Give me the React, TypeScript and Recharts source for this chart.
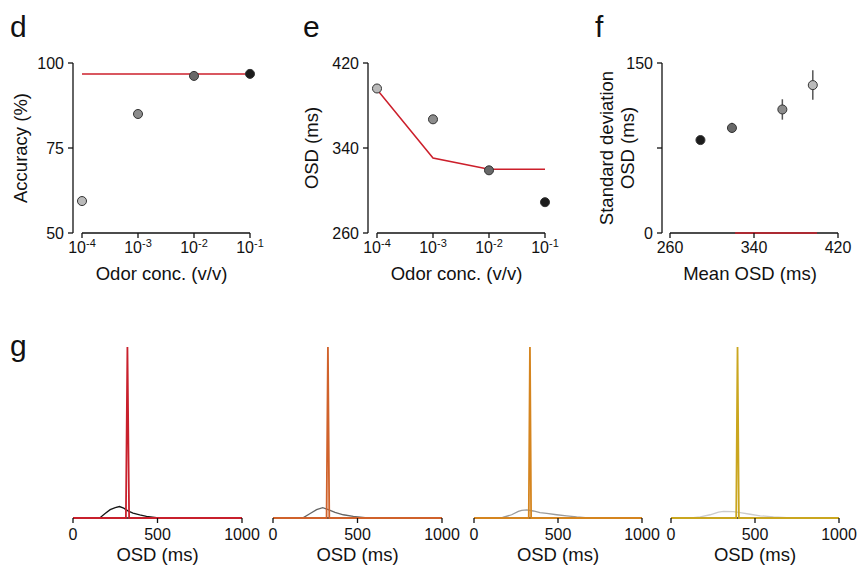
import React from "react";
import {
  ComposedChart,
  LineChart,
  Line,
  Scatter,
  XAxis,
  YAxis,
  Cell,
  ErrorBar,
  ReferenceLine,
  Label,
} from "recharts";

const FONT = '"Liberation Sans", Arial, Helvetica, sans-serif';
const INK = "#111";
const RED = "#cc1f2b";
const TITLE = 18.5;

// odor concentration, log10 (v/v)
const concExp = [-4, -3, -2, -1];
const concShade = ["#bababa", "#8c8c8c", "#686868", "#1c1c1c"];

// d: accuracy
const accuracy = [59.4, 85.0, 96.2, 96.8];
const accuracyModel = [96.8, 96.8, 96.8, 96.8];

// e: mean OSD
const osdMean = [396, 367, 319, 289];
const osdMeanModel = [395, 330.5, 320, 320];

// f: std of OSD vs mean OSD
const osdStd = [130.5, 109, 92.7, 82];
const osdStdErr = [13, 9, 4.5, 2];
const modelMeanSpan = [322, 400];
const modelStd = [0, 0];

// g: OSD distributions, panels left to right = 10^-1, 10^-2, 10^-3, 10^-4
const osdDist = [
  [[0, 0], [150, 0], [160, 0.002], [190, 0.026], [220, 0.049], [250, 0.061], [275, 0.067], [300, 0.058], [325, 0.042], [355, 0.029], [395, 0.018], [435, 0.01], [495, 0.002], [550, 0], [1000, 0]],
  [[0, 0], [170, 0], [180, 0.002], [220, 0.026], [258, 0.049], [294, 0.061], [327, 0.049], [367, 0.033], [416, 0.019], [475, 0.01], [545, 0.002], [600, 0], [1000, 0]],
  [[0, 0], [110, 0], [170, 0.003], [224, 0.019], [264, 0.039], [284, 0.045], [314, 0.047], [353, 0.041], [393, 0.031], [433, 0.027], [492, 0.019], [552, 0.012], [611, 0.006], [680, 0.001], [720, 0], [1000, 0]],
  [[0, 0], [120, 0], [174, 0.006], [233, 0.019], [283, 0.035], [313, 0.039], [372, 0.037], [412, 0.031], [471, 0.022], [531, 0.013], [610, 0.006], [689, 0.002], [760, 0], [1000, 0]],
];
const osdModelSpike = [
  [[0, 0], [313, 0], [322, 1], [332, 0], [1000, 0]],
  [[0, 0], [317, 0], [325, 1], [333, 0], [1000, 0]],
  [[0, 0], [326, 0], [333, 1], [340, 0], [1000, 0]],
  [[0, 0], [388, 0], [396, 1], [404, 0], [1000, 0]],
];
const distColors = ["#161616", "#666666", "#9b9b9b", "#cbcbcb"];
const modelColors = ["#c8202c", "#d0622b", "#d5851f", "#caa61f"];
const osdTicks = [0, 500, 1000];

const axisStroke = { stroke: INK, strokeWidth: 1.3 };
const tickStyle = { fontSize: 16, fill: INK, fontFamily: FONT };

const PowTick = (props: any) => {
  const { x, y, payload } = props;
  return (
    <text x={x} y={y + 11} textAnchor="middle" fontFamily={FONT} fontSize={16} fill={INK}>
      10
      <tspan dy={-6} fontSize={11}>
        {payload.value}
      </tspan>
    </text>
  );
};

function ConcPanel(props: {
  left: number;
  width: number;
  ml: number;
  mr: number;
  values: number[];
  model: number[];
  yDomain: [number, number];
  yTicks: number[];
  yLabel: string;
  labelDx: number;
}) {
  const rows = concExp.map((c, i) => ({ c, v: props.values[i], model: props.model[i] }));
  const y0 = props.yDomain[0];
  return (
    <div style={{ position: "absolute", left: props.left, top: 0 }}>
      <ComposedChart
        width={props.width}
        height={300}
        data={rows}
        margin={{ top: 63, right: props.mr, bottom: 17, left: props.ml }}
      >
        <XAxis
          dataKey="c"
          type="number"
          domain={[-4, -1]}
          ticks={concExp}
          padding={{ left: 9, right: 0 }}
          axisLine={false}
          tickLine={axisStroke}
          tickSize={5}
          tickMargin={4}
          height={50}
          tick={<PowTick />}
          label={{ value: "Odor conc. (v/v)", position: "insideBottom", offset: 3, fontSize: TITLE, fill: INK }}
        />
        <YAxis
          type="number"
          domain={props.yDomain}
          ticks={props.yTicks}
          width={60}
          axisLine={axisStroke}
          tickLine={axisStroke}
          tickSize={5}
          tickMargin={4}
          tick={tickStyle}
          label={{ value: props.yLabel, angle: -90, position: "center", dx: props.labelDx, fontSize: TITLE, fill: INK }}
        />
        <ReferenceLine segment={[{ x: -4, y: y0 }, { x: -1, y: y0 }]} stroke={INK} strokeWidth={1.3} />
        <Line type="linear" dataKey="model" stroke={RED} strokeWidth={1.5} dot={false} isAnimationActive={false} />
        <Scatter dataKey="v" isAnimationActive={false}>
          {rows.map((_, i) => (
            <Cell key={i} fill={concShade[i]} stroke="#333" strokeWidth={1} />
          ))}
        </Scatter>
      </ComposedChart>
    </div>
  );
}

function PanelF() {
  const pts = concExp.map((_, i) => ({ m: osdMean[i], sd: osdStd[i], err: osdStdErr[i] }));
  const model = modelMeanSpan.map((m, i) => ({ m, sd: modelStd[i] }));
  return (
    <div style={{ position: "absolute", left: 570, top: 0 }}>
      <ComposedChart width={288} height={300} margin={{ top: 63, right: 20, bottom: 17, left: 32 }}>
        <XAxis
          dataKey="m"
          type="number"
          domain={[260, 420]}
          ticks={[260, 340, 420]}
          padding={{ left: 8, right: 0 }}
          axisLine={false}
          tickLine={axisStroke}
          tickSize={5}
          tickMargin={4}
          height={50}
          tick={tickStyle}
          label={{ value: "Mean OSD (ms)", position: "insideBottom", offset: 3, fontSize: TITLE, fill: INK }}
        />
        <YAxis
          type="number"
          domain={[0, 150]}
          ticks={[0, 75, 150]}
          tickFormatter={(v: number) => (v === 75 ? "" : String(v))}
          width={60}
          axisLine={axisStroke}
          tickLine={axisStroke}
          tickSize={5}
          tickMargin={4}
          tick={tickStyle}
        >
          <Label value="Standard deviation" angle={-90} position="center" dx={-26} fontSize={TITLE} fill={INK} />
          <Label value="OSD (ms)" angle={-90} position="center" dx={-5} fontSize={TITLE} fill={INK} />
        </YAxis>
        <ReferenceLine segment={[{ x: 260, y: 0 }, { x: 420, y: 0 }]} stroke={INK} strokeWidth={1.3} />
        <Line data={model} type="linear" dataKey="sd" stroke={RED} strokeWidth={1.6} dot={false} isAnimationActive={false} />
        <Scatter data={pts} dataKey="sd" isAnimationActive={false}>
          <ErrorBar dataKey="err" direction="y" width={0} stroke="#555" strokeWidth={1.5} />
          {pts.map((_, i) => (
            <Cell key={i} fill={concShade[i]} stroke="#333" strokeWidth={1} />
          ))}
        </Scatter>
      </ComposedChart>
    </div>
  );
}

const gAxisStart = [73, 273, 474, 671];
const gPlotWidth = [169, 169, 168, 168];

function PanelG({ idx }: { idx: number }) {
  const dist = osdDist[idx].map(([t, p]) => ({ t, p }));
  const spike = osdModelSpike[idx].map(([t, p]) => ({ t, p }));
  const w = 20 + gPlotWidth[idx] + 20;
  return (
    <div style={{ position: "absolute", left: gAxisStart[idx] - 20, top: 330 }}>
      <LineChart width={w} height={236} margin={{ top: 17, right: 20, bottom: 4, left: 20 }}>
        <XAxis
          dataKey="t"
          type="number"
          domain={[0, 1000]}
          ticks={osdTicks}
          axisLine={false}
          tickLine={axisStroke}
          tickSize={5}
          tickMargin={6}
          height={44}
          tick={tickStyle}
          label={{ value: "OSD (ms)", position: "insideBottom", offset: 1, fontSize: TITLE, fill: INK }}
        />
        <YAxis hide type="number" domain={[0, 1]} />
        <ReferenceLine segment={[{ x: 0, y: 0 }, { x: 1000, y: 0 }]} stroke={INK} strokeWidth={1.3} />
        <Line data={dist} type="linear" dataKey="p" stroke={distColors[idx]} strokeWidth={1.3} dot={false} isAnimationActive={false} />
        <Line data={spike} type="linear" dataKey="p" stroke={modelColors[idx]} strokeWidth={1.8} dot={false} isAnimationActive={false} />
      </LineChart>
    </div>
  );
}

const panelLetters = [
  { t: "d", x: 10, y: 37 },
  { t: "e", x: 303, y: 37 },
  { t: "f", x: 595, y: 37 },
  { t: "g", x: 10, y: 356 },
];

export default function App() {
  return (
    <div
      style={{
        position: "absolute",
        left: 0,
        top: 0,
        width: 858,
        height: 566,
        overflow: "hidden",
        background: "#fff",
        fontFamily: FONT,
      }}
    >
      <ConcPanel
        left={0}
        width={280}
        ml={13}
        mr={30}
        values={accuracy}
        model={accuracyModel}
        yDomain={[50, 100]}
        yTicks={[50, 75, 100]}
        yLabel="Accuracy (%)"
        labelDx={-23}
      />
      <ConcPanel
        left={280}
        width={290}
        ml={28}
        mr={25}
        values={osdMean}
        model={osdMeanModel}
        yDomain={[260, 420]}
        yTicks={[260, 340, 420]}
        yLabel="OSD (ms)"
        labelDx={-27}
      />
      <PanelF />
      {[0, 1, 2, 3].map((i) => (
        <PanelG key={i} idx={i} />
      ))}
      <svg width={858} height={566} style={{ position: "absolute", left: 0, top: 0, pointerEvents: "none" }}>
        {panelLetters.map((l) => (
          <text key={l.t} x={l.x} y={l.y} fontSize={30} fontFamily={FONT} fill={INK}>
            {l.t}
          </text>
        ))}
      </svg>
    </div>
  );
}
